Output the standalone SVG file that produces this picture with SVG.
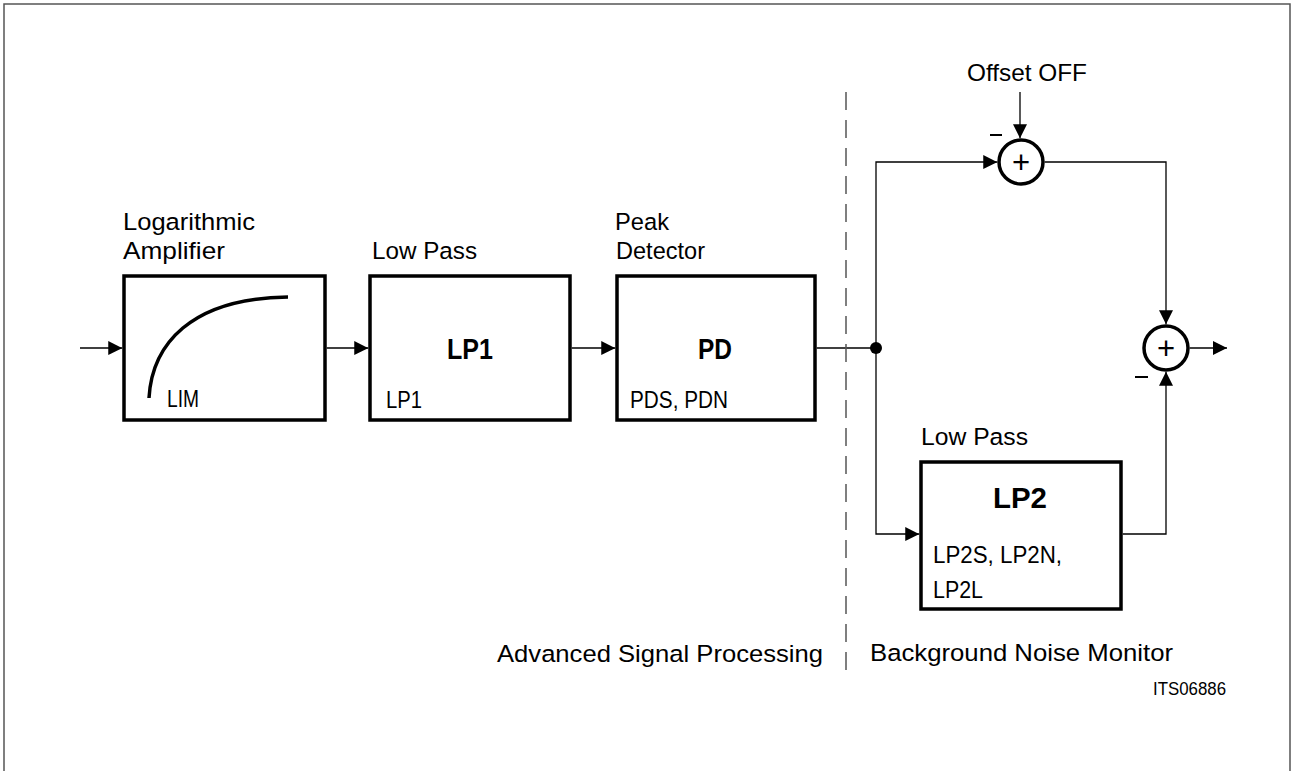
<svg xmlns="http://www.w3.org/2000/svg" width="1295" height="771" viewBox="0 0 1295 771">
<style>
text{font-family:"Liberation Sans",Arial,sans-serif;fill:#000}
.t{font-size:24.5px}
.b{font-size:30px;font-weight:bold}
.s{font-size:18px}
.pl{font-size:31px;text-anchor:middle}
.box{fill:#fff;stroke:#000;stroke-width:3.5}
.sum{fill:#fff;stroke:#000;stroke-width:3.5}
.w{fill:none;stroke:#000;stroke-width:1.3}
.m{stroke:#000;stroke-width:2}
</style>
<defs>
<marker id="ar" markerUnits="userSpaceOnUse" markerWidth="14" markerHeight="14" refX="14" refY="7" orient="auto" viewBox="0 0 14 14">
<path d="M0,0 L14,7 L0,14 z" fill="#000"/>
</marker>
</defs>
<rect width="1295" height="771" fill="#fff"/>
<path d="M4,771 V4 H1290 V771" fill="none" stroke="#555" stroke-width="1.5"/>

<g id="connectors">
<path class="w" d="M80,348 H122.25" marker-end="url(#ar)"/>
<path class="w" d="M326.75,348 H368.25" marker-end="url(#ar)"/>
<path class="w" d="M571.75,348 H615.25" marker-end="url(#ar)"/>
<path class="w" d="M816.75,348 H876"/>
<path class="w" d="M876,348 V162 H997.25" marker-end="url(#ar)"/>
<path class="w" d="M876,348 V534 H919.25" marker-end="url(#ar)"/>
<path class="w" d="M1020,92 V138.25" marker-end="url(#ar)"/>
<path class="w" d="M1044.75,162 H1166 V324.25" marker-end="url(#ar)"/>
<path class="w" d="M1122.75,534 H1166 V371.75" marker-end="url(#ar)"/>
<path class="w" d="M1189.75,348 H1227" marker-end="url(#ar)"/>
<circle cx="876" cy="348" r="6" fill="#000"/>
</g>

<path id="divider" d="M846,92 V672" fill="none" stroke="#555" stroke-width="1.5" stroke-dasharray="18 10"/>

<g id="lim">
<text class="t" x="123" y="230" textLength="132" lengthAdjust="spacingAndGlyphs">Logarithmic</text>
<text class="t" x="123" y="259" textLength="102" lengthAdjust="spacingAndGlyphs">Amplifier</text>
<rect class="box" x="124" y="276" width="201" height="144"/>
<path d="M149,398 C152,345 190,298 288,297" fill="none" stroke="#000" stroke-width="3.5"/>
<text class="t" x="167" y="407" textLength="32" lengthAdjust="spacingAndGlyphs">LIM</text>
</g>

<g id="lp1">
<text class="t" x="372" y="259" textLength="105" lengthAdjust="spacingAndGlyphs">Low Pass</text>
<rect class="box" x="370" y="276" width="200" height="144"/>
<text class="b" x="447" y="359" textLength="46" lengthAdjust="spacingAndGlyphs">LP1</text>
<text class="t" x="386" y="408" textLength="36" lengthAdjust="spacingAndGlyphs">LP1</text>
</g>

<g id="pd">
<text class="t" x="615" y="230" textLength="54" lengthAdjust="spacingAndGlyphs">Peak</text>
<text class="t" x="616" y="259" textLength="89" lengthAdjust="spacingAndGlyphs">Detector</text>
<rect class="box" x="617" y="276" width="198" height="144"/>
<text class="b" x="698" y="359" textLength="34" lengthAdjust="spacingAndGlyphs">PD</text>
<text class="t" x="630" y="408" textLength="98" lengthAdjust="spacingAndGlyphs">PDS, PDN</text>
</g>

<g id="sum1">
<text class="t" x="967" y="81" textLength="120" lengthAdjust="spacingAndGlyphs">Offset OFF</text>
<circle class="sum" cx="1021" cy="162" r="22"/>
<text class="pl" x="1021" y="172.5">+</text>
<line class="m" x1="990" y1="135" x2="1002" y2="135"/>
</g>

<g id="sum2">
<circle class="sum" cx="1166" cy="348" r="22"/>
<text class="pl" x="1166" y="358.5">+</text>
<line class="m" x1="1135" y1="377" x2="1148" y2="377"/>
</g>

<g id="lp2">
<text class="t" x="921" y="445" textLength="107" lengthAdjust="spacingAndGlyphs">Low Pass</text>
<rect class="box" x="921" y="462" width="200" height="147"/>
<text class="b" x="993" y="508" textLength="54" lengthAdjust="spacingAndGlyphs">LP2</text>
<text class="t" x="933" y="563" textLength="129" lengthAdjust="spacingAndGlyphs">LP2S, LP2N,</text>
<text class="t" x="933" y="598" textLength="50" lengthAdjust="spacingAndGlyphs">LP2L</text>
</g>

<g id="labels">
<text class="t" x="497" y="662" textLength="326" lengthAdjust="spacingAndGlyphs">Advanced Signal Processing</text>
<text class="t" x="870" y="661" textLength="303" lengthAdjust="spacingAndGlyphs">Background Noise Monitor</text>
<text class="s" x="1153" y="695" textLength="73" lengthAdjust="spacingAndGlyphs">ITS06886</text>
</g>
</svg>
